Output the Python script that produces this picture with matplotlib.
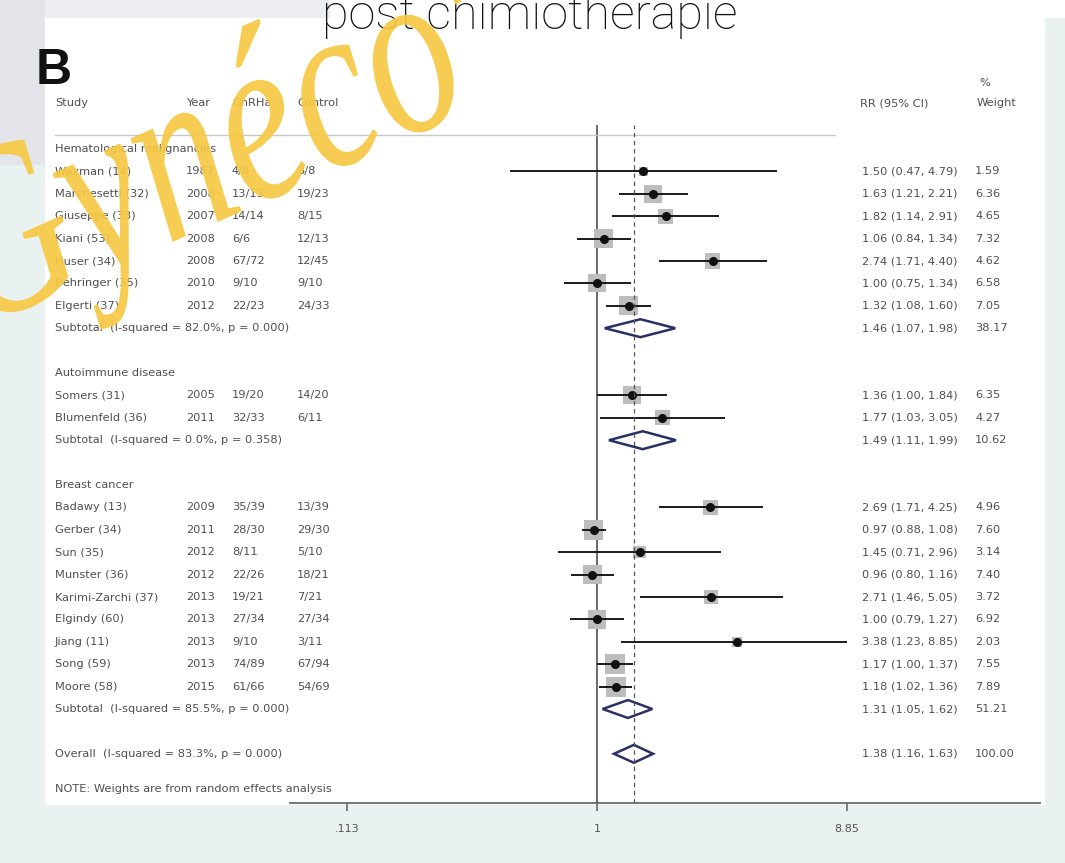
import numpy as np
import matplotlib
matplotlib.use("Agg")
import matplotlib.pyplot as plt
from matplotlib.transforms import blended_transform_factory, Affine2D
from matplotlib.patches import Rectangle, Polygon, PathPatch
from matplotlib.textpath import TextPath
from matplotlib.font_manager import FontProperties

# ---------------- data ----------------
groups = ["Hematological malignancies", "Autoimmune disease", "Breast cancer"]
group_sizes = [7, 2, 9]

study = ["Waxman (14)", "Marchesetti (32)", "Giuseppe (33)", "Kiani (53)",
         "Huser (34)", "Behringer (35)", "Elgerti (37)",
         "Somers (31)", "Blumenfeld (36)",
         "Badawy (13)", "Gerber (34)", "Sun (35)", "Munster (36)",
         "Karimi-Zarchi (37)", "Elgindy (60)", "Jiang (11)", "Song (59)", "Moore (58)"]
year = [1987, 2008, 2007, 2008, 2008, 2010, 2012,
        2005, 2011,
        2009, 2011, 2012, 2012, 2013, 2013, 2013, 2013, 2015]
treated = ["4/8", "13/13", "14/14", "6/6", "67/72", "9/10", "22/23",
           "19/20", "32/33",
           "35/39", "28/30", "8/11", "22/26", "19/21", "27/34", "9/10", "74/89", "61/66"]
control = ["3/8", "19/23", "8/15", "12/13", "12/45", "9/10", "24/33",
           "14/20", "6/11",
           "13/39", "29/30", "5/10", "18/21", "7/21", "27/34", "3/11", "67/94", "54/69"]
rr = [1.50, 1.63, 1.82, 1.06, 2.74, 1.00, 1.32,
      1.36, 1.77,
      2.69, 0.97, 1.45, 0.96, 2.71, 1.00, 3.38, 1.17, 1.18]
rr_lo = [0.47, 1.21, 1.14, 0.84, 1.71, 0.75, 1.08,
         1.00, 1.03,
         1.71, 0.88, 0.71, 0.80, 1.46, 0.79, 1.23, 1.00, 1.02]
rr_hi = [4.79, 2.21, 2.91, 1.34, 4.40, 1.34, 1.60,
         1.84, 3.05,
         4.25, 1.08, 2.96, 1.16, 5.05, 1.27, 8.85, 1.37, 1.36]
weight = [1.59, 6.36, 4.65, 7.32, 4.62, 6.58, 7.05,
          6.35, 4.27,
          4.96, 7.60, 3.14, 7.40, 3.72, 6.92, 2.03, 7.55, 7.89]

sub_label = ["Subtotal  (I-squared = 82.0%, p = 0.000)",
             "Subtotal  (I-squared = 0.0%, p = 0.358)",
             "Subtotal  (I-squared = 85.5%, p = 0.000)"]
sub_rr = [1.46, 1.49, 1.31]
sub_lo = [1.07, 1.11, 1.05]
sub_hi = [1.98, 1.99, 1.62]
sub_weight = [38.17, 10.62, 51.21]

overall_label = "Overall  (I-squared = 83.3%, p = 0.000)"
overall_rr, overall_lo, overall_hi, overall_weight = 1.38, 1.16, 1.63, 100.00

note = "NOTE: Weights are from random effects analysis"
headers = ["Study", "Year", "GnRHa", "Control", "RR (95% CI)", "%", "Weight"]

# ---------------- layout ----------------
W, H = 1065, 863
fig = plt.figure(figsize=(W / 100, H / 100), dpi=100)
fig.patch.set_facecolor("#eaf1f1")

def fx(px):
    return px / W

def fy(py):
    return 1 - py / H

# page background pieces
fig.add_artist(Rectangle((fx(45), fy(805)), fx(1045) - fx(45), fy(18) - fy(805),
                         transform=fig.transFigure, facecolor="white", edgecolor="none", zorder=0))
fig.add_artist(Rectangle((fx(330), fy(18)), 1, fy(0) - fy(18),
                         transform=fig.transFigure, facecolor="white", edgecolor="none", zorder=0))
fig.add_artist(Rectangle((0, fy(18)), fx(330), fy(0) - fy(18),
                         transform=fig.transFigure, facecolor="#eceef1", edgecolor="none", zorder=0))
fig.add_artist(Rectangle((0, fy(165)), fx(45), fy(0) - fy(165),
                         transform=fig.transFigure, facecolor="#e3e5ea", edgecolor="none", zorder=0))

# row positions
row0_px, row_step = 149.0, 22.4
ax_left_px, ax_right_px = 290, 1040
ax_top_px, ax_bot_px = 125, 803
one_px, max_px = 597, 847
xmax = max(rr_hi)
px_per_ln = (max_px - one_px) / np.log(xmax)

ax = fig.add_axes([fx(ax_left_px), fy(ax_bot_px), fx(ax_right_px) - fx(ax_left_px),
                   fy(ax_top_px) - fy(ax_bot_px)])
ax.set_facecolor("none")
ax.set_xscale("log")
ax.set_xlim(np.exp((ax_left_px - one_px) / px_per_ln), np.exp((ax_right_px - one_px) / px_per_ln))
ax.set_ylim((ax_bot_px - row0_px) / row_step, (ax_top_px - row0_px) / row_step)

for s in ["top", "left", "right"]:
    ax.spines[s].set_visible(False)
ax.spines["bottom"].set_color("#6a6a6a")
ax.spines["bottom"].set_linewidth(1.3)
ax.set_yticks([])
ax.set_xticks([1 / xmax, 1, xmax])
ax.set_xticklabels([f"{1 / xmax:.3f}".lstrip("0"), "1", f"{xmax:.2f}"])
ax.xaxis.set_minor_locator(matplotlib.ticker.NullLocator())
ax.tick_params(axis="x", direction="out", length=6, width=1.2, color="#6a6a6a",
               labelsize=8, labelcolor="#555555", pad=9)

txt = blended_transform_factory(fig.transFigure, ax.transData)
tkw = dict(transform=txt, fontsize=8.2, color="#4f4f4f", va="center", ha="left",
           family="DejaVu Sans", clip_on=False)

# header
hy = (103 - row0_px) / row_step
for label, px in zip(headers, [55, 186, 232, 297, 860, 979, 977]):
    y = hy if label != "%" else (83 - row0_px) / row_step
    ax.text(fx(px), y, label, **tkw)
ax.plot([fx(55), fx(835)], [(135 - row0_px) / row_step] * 2, transform=txt,
        color="#c8c8c8", lw=1.0, clip_on=False)

# reference lines
ax.axvline(1, color="#6a6a6a", lw=1.4, zorder=1)
ax.axvline(overall_rr, color="#555555", lw=0.9, ls=(0, (3.5, 3)), zorder=6)

diamond_h = 0.4

def draw_diamond(y, c, lo, hi):
    ax.add_patch(Polygon([(lo, y), (c, y - diamond_h), (hi, y), (c, y + diamond_h)],
                         closed=True, facecolor="white", edgecolor="#2b2f63", lw=1.8, zorder=5))

def stats_text(y, c, lo, hi, w):
    ax.text(fx(862), y, f"{c:.2f} ({lo:.2f}, {hi:.2f})", **tkw)
    ax.text(fx(975), y, f"{w:.2f}", **tkw)

row = 0
i = 0
for g, n in enumerate(group_sizes):
    ax.text(fx(55), row, groups[g], **tkw)
    for k in range(n):
        y = row + 1 + k
        ax.text(fx(55), y, study[i], **tkw)
        ax.text(fx(186), y, str(year[i]), **tkw)
        ax.text(fx(232), y, treated[i], **tkw)
        ax.text(fx(297), y, control[i], **tkw)
        ax.scatter([rr[i]], [y], s=weight[i] * 26, marker="s", color="#bdbdbd",
                   edgecolors="none", zorder=2)
        ax.plot([rr_lo[i], rr_hi[i]], [y, y], color="#1a1a1a", lw=1.4, zorder=3,
                solid_capstyle="butt")
        ax.plot([rr[i]], [y], marker="o", ms=5.5, color="#111111", zorder=4)
        stats_text(y, rr[i], rr_lo[i], rr_hi[i], weight[i])
        i += 1
    ys = row + n + 1
    ax.text(fx(55), ys, sub_label[g], **tkw)
    draw_diamond(ys, sub_rr[g], sub_lo[g], sub_hi[g])
    stats_text(ys, sub_rr[g], sub_lo[g], sub_hi[g], sub_weight[g])
    row = ys + 2

ax.text(fx(55), row, overall_label, **tkw)
draw_diamond(row, overall_rr, overall_lo, overall_hi)
stats_text(row, overall_rr, overall_lo, overall_hi, overall_weight)
ax.text(fx(55), row + 1.55, note, **tkw)

# panel letter and title
fig.text(fx(36), fy(84), "B", fontsize=36, fontweight="bold", family="Liberation Sans",
         color="#111111", va="baseline", ha="left")
fig.text(fx(530), fy(29), "post chimiothérapie", fontsize=35, family="Roboto",
         fontweight="light", color="#111111", va="baseline", ha="center")

# watermark, drawn as a condensed italic outline
mark = TextPath((0, 0), "Gynéco'", size=225,
                prop=FontProperties(family="Liberation Serif", style="italic"))
mark_tr = (Affine2D().scale(0.8, 1.08).rotate_deg(24).translate(-25, H - 330)
           .scale(1 / W, 1 / H) + fig.transFigure)
fig.add_artist(PathPatch(mark, transform=mark_tr, facecolor="#f7c843",
                         edgecolor="none", alpha=0.92, zorder=20))

fig.savefig("out.png", dpi=100, facecolor=fig.get_facecolor())
